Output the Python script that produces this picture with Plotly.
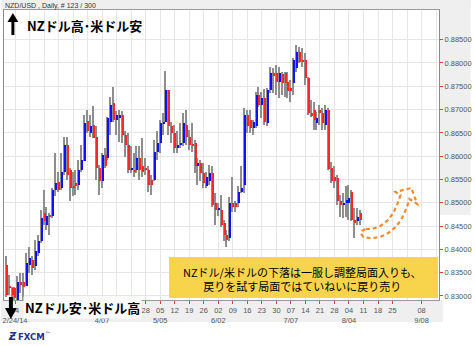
import plotly.graph_objects as go

# NZD/USD daily candles; day offset 0 = Mon 2/24/14 (trading days only)
day = list(range(-3, 120))

opens = [
    0.8367, 0.8322, 0.8317, 0.8317, 0.8292, 0.8331, 0.8330, 0.8321, 0.8367, 0.8378,
    0.8364, 0.8392, 0.8417, 0.8478, 0.8453, 0.8472, 0.8471, 0.8528, 0.8544, 0.8532,
    0.8567, 0.8624, 0.8571, 0.8535, 0.8542, 0.8539, 0.8571, 0.8589, 0.8675, 0.8649,
    0.8667, 0.8642, 0.8574, 0.8546, 0.8603, 0.8596, 0.8674, 0.8714, 0.8678, 0.8681,
    0.8689, 0.8646, 0.8624, 0.8571, 0.8571, 0.8571, 0.8596, 0.8578, 0.8574, 0.8571,
    0.8549, 0.8549, 0.8610, 0.8628, 0.8671, 0.8674, 0.8742, 0.8664, 0.8650, 0.8617,
    0.8624, 0.8628, 0.8667, 0.8642, 0.8626, 0.8628, 0.8578, 0.8585, 0.8564, 0.8535,
    0.8546, 0.8564, 0.8499, 0.8485, 0.8485, 0.8456, 0.8431, 0.8424, 0.8499, 0.8499,
    0.8499, 0.8524, 0.8538, 0.8688, 0.8678, 0.8660, 0.8664, 0.8731, 0.8710, 0.8724,
    0.8671, 0.8742, 0.8778, 0.8778, 0.8760, 0.8776, 0.8778, 0.8760, 0.8746, 0.8757,
    0.8789, 0.8824, 0.8806, 0.8806, 0.8767, 0.8692, 0.8699, 0.8671, 0.8699, 0.8692,
    0.8667, 0.8699, 0.8574, 0.8556, 0.8553, 0.8503, 0.8496, 0.8499, 0.8499, 0.8524,
    0.8463, 0.8460, 0.8478,
]
highs = [
    0.8385, 0.8346, 0.8320, 0.8320, 0.8342, 0.8349, 0.8349, 0.8392, 0.8406, 0.8385,
    0.8421, 0.8431, 0.8485, 0.8528, 0.8492, 0.8478, 0.8532, 0.8607, 0.8567, 0.8607,
    0.8642, 0.8642, 0.8574, 0.8567, 0.8571, 0.8592, 0.8624, 0.8689, 0.8700, 0.8689,
    0.8707, 0.8664, 0.8581, 0.8607, 0.8617, 0.8685, 0.8728, 0.8749, 0.8696, 0.8699,
    0.8696, 0.8653, 0.8649, 0.8621, 0.8607, 0.8621, 0.8621, 0.8639, 0.8596, 0.8578,
    0.8560, 0.8635, 0.8653, 0.8678, 0.8692, 0.8782, 0.8742, 0.8674, 0.8667, 0.8653,
    0.8671, 0.8692, 0.8699, 0.8656, 0.8671, 0.8635, 0.8596, 0.8592, 0.8585, 0.8567,
    0.8581, 0.8578, 0.8521, 0.8499, 0.8517, 0.8463, 0.8442, 0.8513, 0.8556, 0.8503,
    0.8535, 0.8578, 0.8703, 0.8699, 0.8699, 0.8678, 0.8738, 0.8749, 0.8738, 0.8745,
    0.8746, 0.8792, 0.8789, 0.8796, 0.8792, 0.8781, 0.8781, 0.8781, 0.8764, 0.8810,
    0.8839, 0.8835, 0.8832, 0.8821, 0.8771, 0.8721, 0.8717, 0.8695, 0.8710, 0.8703,
    0.8710, 0.8703, 0.8588, 0.8578, 0.8560, 0.8517, 0.8521, 0.8535, 0.8538, 0.8528,
    0.8488, 0.8488, 0.8485,
]
lows = [
    0.8298, 0.8303, 0.8298, 0.8290, 0.8290, 0.8306, 0.8292, 0.8321, 0.8349, 0.8346,
    0.8356, 0.8385, 0.8414, 0.8453, 0.8442, 0.8431, 0.8467, 0.8514, 0.8524, 0.8528,
    0.8560, 0.8549, 0.8503, 0.8514, 0.8517, 0.8528, 0.8567, 0.8589, 0.8649, 0.8642,
    0.8639, 0.8549, 0.8517, 0.8531, 0.8574, 0.8592, 0.8646, 0.8674, 0.8646, 0.8631,
    0.8628, 0.8599, 0.8564, 0.8564, 0.8556, 0.8564, 0.8549, 0.8556, 0.8560, 0.8524,
    0.8517, 0.8546, 0.8592, 0.8607, 0.8646, 0.8674, 0.8646, 0.8628, 0.8606, 0.8606,
    0.8617, 0.8621, 0.8624, 0.8613, 0.8610, 0.8564, 0.8538, 0.8546, 0.8531, 0.8531,
    0.8538, 0.8492, 0.8453, 0.8471, 0.8449, 0.8417, 0.8406, 0.8417, 0.8481, 0.8481,
    0.8492, 0.8521, 0.8521, 0.8649, 0.8649, 0.8646, 0.8660, 0.8706, 0.8681, 0.8667,
    0.8664, 0.8735, 0.8735, 0.8731, 0.8724, 0.8731, 0.8728, 0.8724, 0.8717, 0.8731,
    0.8781, 0.8799, 0.8792, 0.8753, 0.8688, 0.8685, 0.8656, 0.8656, 0.8667, 0.8656,
    0.8656, 0.8570, 0.8542, 0.8531, 0.8496, 0.8470, 0.8467, 0.8470, 0.8463, 0.8460,
    0.8424, 0.8453, 0.8453,
]
closes = [
    0.8303, 0.8318, 0.8303, 0.8295, 0.8331, 0.8324, 0.8320, 0.8371, 0.8381, 0.8360,
    0.8396, 0.8417, 0.8467, 0.8460, 0.8472, 0.8470, 0.8528, 0.8542, 0.8528, 0.8567,
    0.8624, 0.8560, 0.8532, 0.8532, 0.8537, 0.8571, 0.8592, 0.8671, 0.8653, 0.8664,
    0.8639, 0.8574, 0.8546, 0.8603, 0.8580, 0.8681, 0.8710, 0.8678, 0.8689, 0.8688,
    0.8646, 0.8624, 0.8571, 0.8574, 0.8568, 0.8596, 0.8571, 0.8567, 0.8571, 0.8539,
    0.8539, 0.8610, 0.8628, 0.8671, 0.8674, 0.8742, 0.8664, 0.8650, 0.8617, 0.8624,
    0.8628, 0.8671, 0.8642, 0.8624, 0.8621, 0.8578, 0.8585, 0.8564, 0.8542, 0.8556,
    0.8564, 0.8496, 0.8485, 0.8488, 0.8453, 0.8431, 0.8420, 0.8499, 0.8492, 0.8492,
    0.8524, 0.8531, 0.8688, 0.8664, 0.8660, 0.8674, 0.8731, 0.8710, 0.8724, 0.8674,
    0.8742, 0.8778, 0.8774, 0.8760, 0.8778, 0.8757, 0.8756, 0.8739, 0.8742, 0.8806,
    0.8824, 0.8803, 0.8803, 0.8767, 0.8692, 0.8688, 0.8678, 0.8681, 0.8692, 0.8671,
    0.8699, 0.8573, 0.8546, 0.8546, 0.8503, 0.8496, 0.8500, 0.8506, 0.8510, 0.8463,
    0.8456, 0.8470, 0.8463,
]

# labelled Mondays (week number from 2/24/14): day-of-month row and month row
label_weeks = [0, 6, 9, 10, 11, 12, 13, 14, 15, 16, 17, 18, 19, 20,
               21, 22, 23, 24, 25, 26, 28]
week_days = ["24", " ", "28", "05", "12", "19", "26", "02", "09", "16", "23",
             "30", "07", "14", "21", "28", "04", "11", "18", "25", "08"]
month_marks = {0: "2/24/14", 6: "4/07", 10: "5/05", 14: "6/02",
               19: "7/07", 23: "8/04", 28: "9/08"}
price_ticks = [0.830, 0.835, 0.840, 0.845, 0.850, 0.855, 0.860,
               0.865, 0.870, 0.875, 0.880, 0.885]

UP, DOWN, WICK = "#1010ff", "#ff2626", "#8e8e8e"

body_base = [min(o, c) for o, c in zip(opens, closes)]
body_len = [max(abs(c - o), 0.00005) for o, c in zip(opens, closes)]
body_col = [UP if c >= o else DOWN for o, c in zip(opens, closes)]

fig = go.Figure()
fig.add_trace(go.Bar(x=day, y=[h - l for h, l in zip(highs, lows)], base=lows,
                     width=0.42, offset=-0.36, marker=dict(color=WICK, line=dict(width=0)),
                     hoverinfo="skip"))
fig.add_trace(go.Bar(x=day, y=body_len, base=body_base,
                     width=0.5, offset=-0.02, marker=dict(color=body_col, line=dict(width=0)),
                     hoverinfo="skip"))

tickvals = [5 * k for k in label_weeks]
ticktext = [d + ("<br>" + month_marks[k] if k in month_marks else "")
            for k, d in zip(label_weeks, week_days)]

W, H = 475, 346
L, R, T, B = 3, 443, 10, 300


def px(x):
    return (x - L) / (R - L)


def py(y):
    return (B - y) / (B - T)


def path(points, close=True):
    s = "M " + " L ".join(f"{px(x):.5f},{py(y):.5f}" for x, y in points)
    return s + (" Z" if close else "")


shapes = [
    # grey frame strips around the plot
    dict(type="rect", xref="paper", yref="paper", x0=px(0), x1=px(W), y0=py(T), y1=py(0),
         fillcolor="#efefef", line=dict(width=0), layer="below"),
    dict(type="rect", xref="paper", yref="paper", x0=px(R), x1=px(W), y0=py(215), y1=py(0),
         fillcolor="#efefef", line=dict(width=0), layer="below"),
    dict(type="rect", xref="paper", yref="paper", x0=px(0), x1=px(447), y0=py(322), y1=py(B),
         fillcolor="#efefef", line=dict(width=0), layer="below"),
    # comment box
    dict(type="rect", xref="paper", yref="paper", x0=px(170), x1=px(442), y0=py(298), y1=py(257),
         fillcolor="#f7d44c", line=dict(width=0)),
    # up arrow
    dict(type="path", xref="paper", yref="paper",
         path=path([(10.5, 35), (10.5, 22), (6.5, 22), (12, 13), (17.5, 22), (13.5, 22), (13.5, 35)]),
         fillcolor="black", line=dict(width=0)),
]


# hollow dashed rebound arrow
def bez(p0, p1, p2, p3, n=10):
    out = []
    for k in range(1, n + 1):
        t = k / n
        a, b, c, d = (1 - t) ** 3, 3 * t * (1 - t) ** 2, 3 * t * t * (1 - t), t ** 3
        out.append((a * p0[0] + b * p1[0] + c * p2[0] + d * p3[0],
                    a * p0[1] + b * p1[1] + c * p2[1] + d * p3[1]))
    return out


arrow_pts = [(369, 229)]
arrow_pts += bez((369, 229), (387, 230), (398, 216), (404, 195))
arrow_pts += [(399, 192), (415, 188), (421, 204), (413, 199)]
arrow_pts += bez((413, 199), (407, 222), (394, 239), (372, 238))
arrow_pts += bez((372, 238), (362, 238), (362, 230), (369, 229), 4)
shapes.append(dict(type="path", xref="paper", yref="paper", path=path(arrow_pts),
                   line=dict(color="#f28a2e", width=2.2, dash="4px,3px")))

JP = "Noto Sans CJK JP"


def note(x, y, text, **kw):
    base = dict(x=px(x), y=py(y), xref="paper", yref="paper", text=text,
                showarrow=False, yanchor="middle")
    base.update(kw)
    return base


annotations = [
    note(2, 6, "NZD/USD , Daily, # 123 / 300", xanchor="left",
         font=dict(family="Liberation Sans", size=7, color="#333")),
    note(24, 25, "<b>NZドル高･米ドル安</b>", xanchor="left",
         font=dict(family=JP, size=13, color="black")),
    note(22, 307, "<b>NZドル安･米ドル高</b>", xanchor="left", bgcolor="#fcfcfc", borderpad=1,
         font=dict(family=JP, size=13, color="black")),
    note(305, 278.5, "NZドル/米ドルの下落は一服し調整局面入りも、<br>戻りを試す局面ではていねいに戻り売り",
         xanchor="center", align="center", font=dict(family=JP, size=11, color="black")),
    note(5, 336, "<b><i>Ƶ</i></b>", xanchor="left",
         font=dict(family="DejaVu Sans", size=10, color="#23308a")),
    note(15, 336, "<b>FXCM</b><sup>™</sup>", xanchor="left",
         font=dict(family="DejaVu Sans", size=8.5, color="#23308a")),
]

fig.update_layout(
    width=W, height=H,
    margin=dict(l=L, r=W - R, t=T, b=H - B),
    paper_bgcolor="white", plot_bgcolor="white",
    barmode="overlay", bargap=0, showlegend=False,
    shapes=shapes, annotations=annotations,
    xaxis=dict(range=[-3.8, 146.0], tickmode="array", tickvals=tickvals, ticktext=ticktext,
               tickangle=0, showgrid=True, gridcolor="#e6e6e6", gridwidth=1, zeroline=False,
               minor=dict(tick0=0, dtick=5, showgrid=True, gridcolor="#e6e6e6", gridwidth=1),
               ticks="outside", ticklen=3, tickcolor="#e04040", tickwidth=1,
               tickfont=dict(family="Liberation Sans", size=7.5, color="#555"),
               showline=True, linecolor="#999", mirror=True, fixedrange=True),
    yaxis=dict(side="right", range=[0.82914, 0.89137], tickmode="array",
               tickvals=price_ticks, tickformat=".5f", showgrid=True, gridcolor="#e6e6e6",
               gridwidth=1, zeroline=False, ticks="outside", ticklen=3, tickcolor="#e04040",
               tickfont=dict(family="Liberation Sans", size=7.5, color="#555"),
               showline=True, linecolor="#8a8a8a", linewidth=1, mirror=True),
)

# down arrow sits over the axis labels, so it is added after the layout shapes
fig.add_shape(type="path", xref="paper", yref="paper",
              path=path([(8, 297), (12, 297), (12, 308), (16, 308), (10, 319), (4, 308), (8, 308)]),
              fillcolor="black", line=dict(width=0))

fig.write_html("out.html")
